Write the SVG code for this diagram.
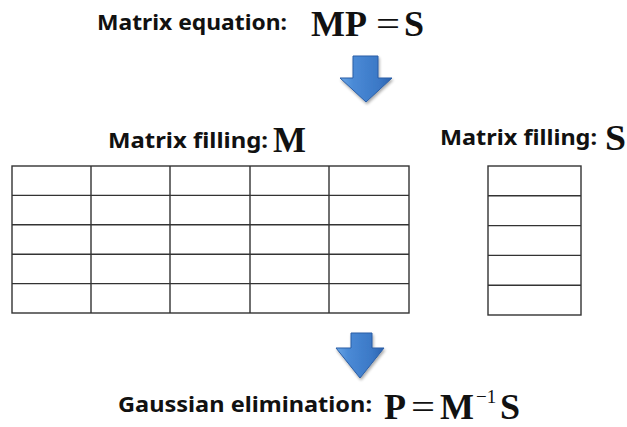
<svg xmlns="http://www.w3.org/2000/svg" width="627" height="427" viewBox="0 0 627 427">
<defs>
<linearGradient id="ag" x1="0" y1="0" x2="1" y2="0">
<stop offset="0" stop-color="#6aa6e6"/>
<stop offset="0.25" stop-color="#4a8ad6"/>
<stop offset="0.75" stop-color="#3b78c6"/>
<stop offset="1" stop-color="#2c62ae"/>
</linearGradient>
<filter id="sh" x="-20%" y="-20%" width="150%" height="150%">
<feGaussianBlur in="SourceAlpha" stdDeviation="1.5"/>
<feOffset dx="1" dy="2" result="o"/>
<feComponentTransfer><feFuncA type="linear" slope="0.35"/></feComponentTransfer>
<feMerge><feMergeNode/><feMergeNode in="SourceGraphic"/></feMerge>
</filter>
</defs>
<style>
.lbl{font-family:"Noto Sans","Open Sans","DejaVu Sans",sans-serif;font-weight:bold;font-size:22px;fill:#111}
.math{font-family:"Liberation Serif","Times New Roman",serif;font-weight:bold;font-size:36px;fill:#111}
.eq{font-family:"Liberation Serif","Times New Roman",serif;font-weight:normal;font-size:36px;fill:#111}
.sup{font-family:"Liberation Serif","Times New Roman",serif;font-weight:normal;font-size:19px;fill:#111}
.grid{fill:none;stroke:#333;stroke-width:1.4}
.arrow{fill:url(#ag);stroke:#2a5ea6;stroke-width:1;filter:url(#sh)}
</style>
<rect width="627" height="427" fill="#fff"/>

<g id="title">
<text class="lbl" x="97" y="30" textLength="190" lengthAdjust="spacingAndGlyphs">Matrix equation:</text>
<text class="math" x="311" y="36">MP</text>
<text class="eq" x="376" y="36" textLength="24" lengthAdjust="spacingAndGlyphs">=</text>
<text class="math" x="404" y="36">S</text>
</g>

<g id="connectors">
<path class="arrow" d="M353,56 L378,56 L378,78 L392,78 L366,102 L340,78 L353,78 Z"/>
<path class="arrow" d="M351,333 L372,333 L372,348 L384,348 L360,378 L336,348 L351,348 Z"/>
</g>

<g id="matrixM">
<text class="lbl" x="108" y="148" textLength="160" lengthAdjust="spacingAndGlyphs">Matrix filling:</text>
<text class="math" x="273" y="152" textLength="33" lengthAdjust="spacingAndGlyphs">M</text>
<rect class="grid" x="12" y="166" width="397" height="147"/>
<path class="grid" d="M91,166V313M170,166V313M250,166V313M329,166V313M12,195.4H409M12,224.8H409M12,254.2H409M12,283.6H409"/>
</g>

<g id="matrixS">
<text class="lbl" x="440" y="145" textLength="157" lengthAdjust="spacingAndGlyphs">Matrix filling:</text>
<text class="math" x="605" y="150" textLength="21" lengthAdjust="spacingAndGlyphs">S</text>
<rect class="grid" x="488" y="166" width="93" height="149"/>
<path class="grid" d="M488,195.8H581M488,225.6H581M488,255.4H581M488,285.2H581"/>
</g>

<g id="result">
<text class="lbl" x="118" y="412" textLength="254" lengthAdjust="spacingAndGlyphs">Gaussian elimination:</text>
<text class="math" x="384" y="419">P</text>
<text class="eq" x="411" y="419" textLength="24" lengthAdjust="spacingAndGlyphs">=</text>
<text class="math" x="440" y="419">M</text>
<text class="sup" x="476" y="403">−1</text>
<text class="math" x="500" y="419">S</text>
</g>
</svg>
